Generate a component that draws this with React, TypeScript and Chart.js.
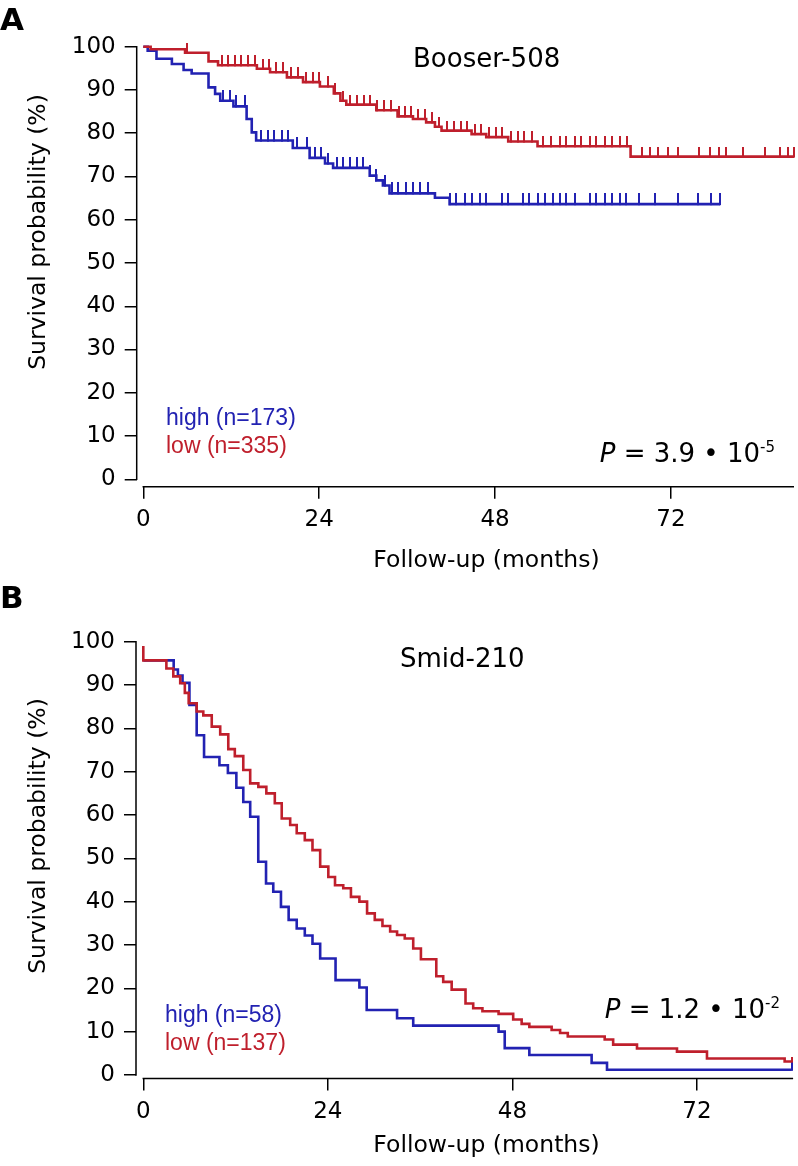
import React, { useEffect, useRef } from "react";
import { Chart, registerables } from "chart.js";

Chart.register(...registerables);

const BLUE = "#2222b2";
const RED = "#bf1f2c";
const SANS = "'DejaVu Sans', 'Liberation Sans', sans-serif";
const LEG = "'Liberation Sans', Arial, sans-serif";

const xTicks = [0, 24, 48, 72];
const yTicks = [0, 10, 20, 30, 40, 50, 60, 70, 80, 90, 100];

// ---------- Panel A: Booser-508 ----------
const aHighTimes = [0, 0.6, 1.8, 3.9, 5.5, 6.6, 8.9, 9.8, 10.5, 12.3, 14.1, 14.8, 15.4, 20.4, 22.7, 24.8, 25.9, 30.9, 31.8, 32.7, 33.6, 39.8, 41.8];
const aHighSurv = [100, 99.1, 97.2, 96.0, 94.6, 93.8, 90.6, 89.1, 87.5, 86.2, 83.3, 80.2, 78.3, 76.6, 74.3, 73.0, 72.0, 70.2, 69.1, 67.9, 66.1, 65.1, 63.6];
const aHighEnd = 78.7;
const aHighCensor = [10.9, 11.8, 12.7, 13.9, 16.1, 17.0, 17.9, 18.9, 19.8, 21.0, 22.3, 23.4, 24.3, 25.2, 26.4, 27.3, 28.2, 29.1, 30.0, 30.9, 31.8, 33.0, 33.9, 34.8, 35.9, 36.8, 37.7, 38.9, 41.8, 42.7, 43.9, 44.8, 45.9, 46.8, 48.9, 49.8, 51.8, 52.7, 53.9, 54.8, 55.9, 56.8, 57.7, 58.9, 60.9, 61.8, 63.0, 63.9, 65.0, 65.9, 67.7, 69.8, 73.0, 75.7, 77.5, 78.7];

const aLowTimes = [0, 1.0, 5.7, 8.9, 10.2, 15.5, 17.3, 19.6, 21.8, 24.1, 26.0, 26.9, 27.7, 31.8, 34.7, 36.8, 38.6, 39.8, 40.7, 44.8, 46.8, 49.8, 53.8, 66.5];
const aLowSurv = [100, 99.4, 98.6, 96.6, 95.7, 94.9, 94.1, 92.9, 91.8, 90.8, 89.2, 87.5, 86.6, 85.3, 83.9, 83.3, 82.5, 81.5, 80.6, 79.8, 79.1, 78.1, 77.0, 74.6];
const aLowEnd = 88.8;
const aLowCensor = [5.9, 10.7, 11.6, 12.5, 13.4, 14.3, 15.2, 16.3, 17.2, 18.1, 19.1, 20.2, 21.1, 22.2, 23.1, 24.0, 25.2, 26.1, 27.3, 28.2, 29.1, 30.1, 30.9, 31.9, 32.8, 33.8, 34.9, 35.7, 36.6, 37.5, 38.4, 39.4, 40.3, 41.5, 42.4, 43.3, 44.2, 45.2, 46.1, 47.2, 48.1, 49.0, 50.2, 51.1, 52.0, 53.0, 54.5, 55.7, 56.8, 57.7, 58.9, 59.8, 60.9, 61.8, 63.0, 63.9, 65.1, 66.0, 68.0, 69.1, 70.2, 71.6, 73.0, 75.9, 77.3, 78.6, 79.5, 81.8, 84.8, 86.9, 88.0, 88.8];

// ---------- Panel B: Smid-210 ----------
const bHighTimes = [0, 3.95, 4.5, 5.1, 6.0, 6.94, 7.9, 9.9, 11.0, 12.1, 13.0, 13.9, 14.95, 15.96, 16.9, 17.9, 18.9, 19.95, 21.0, 22.0, 23.0, 25.0, 28.1, 29.05, 33.0, 35.1, 46.2, 47.0, 50.2, 58.3, 60.3];
const bHighSurv = [95.7, 93.6, 92.2, 90.5, 85.4, 78.4, 73.4, 71.5, 69.7, 66.3, 63.0, 59.6, 49.2, 44.2, 42.3, 38.8, 35.8, 33.8, 32.2, 30.3, 26.9, 21.9, 20.2, 15.0, 13.1, 11.4, 10.0, 6.2, 4.6, 2.8, 1.2];
const bHighEnd = 84.3;
const bHighCensor = [84.3];

const bLowTimes = [0, 0, 3.0, 3.9, 4.8, 5.4, 5.9, 6.94, 7.8, 8.9, 10.0, 11.05, 11.9, 13.0, 13.9, 14.96, 16.0, 17.1, 18.0, 19.1, 19.95, 21.0, 22.0, 23.0, 24.06, 24.93, 26.0, 27.0, 28.1, 29.1, 30.1, 31.1, 32.1, 33.0, 34.0, 35.1, 36.1, 38.1, 39.0, 40.1, 41.9, 42.9, 44.1, 46.2, 48.1, 49.2, 50.2, 53.1, 54.2, 55.2, 60.0, 61.1, 64.2, 69.4, 73.3, 83.4];
const bLowSurv = [99.0, 95.7, 93.8, 92.0, 90.4, 88.2, 85.8, 83.9, 83.0, 80.4, 78.6, 75.2, 73.6, 70.4, 67.3, 66.5, 65.0, 62.7, 59.2, 57.7, 55.8, 54.2, 51.9, 48.1, 45.7, 43.8, 43.1, 41.1, 40.0, 37.3, 35.8, 34.4, 33.1, 32.3, 31.5, 29.2, 26.7, 22.8, 21.5, 19.7, 16.5, 15.4, 14.7, 14.1, 12.8, 11.8, 11.1, 10.4, 9.7, 8.9, 8.2, 7.0, 6.1, 5.4, 3.8, 3.1];
const bLowEnd = 84.3;
const bLowCensor = [84.3];

// ---------- helpers ----------
type Pt = { x: number; y: number };

function stepData(times: number[], surv: number[], end: number): Pt[] {
  const pts = times.map((t, i) => ({ x: t, y: surv[i] }));
  pts.push({ x: end, y: surv[surv.length - 1] });
  return pts;
}

function survAt(times: number[], surv: number[], t: number): number {
  let v = surv[0];
  for (let i = 0; i < times.length; i++) if (times[i] <= t) v = surv[i];
  return v;
}

function tickImage(color: string, h: number): HTMLCanvasElement {
  const c = document.createElement("canvas");
  c.width = 2;
  c.height = 2 * h;
  const g = c.getContext("2d")!;
  g.fillStyle = color;
  g.fillRect(0, 0, 2, h + 1);
  return c;
}

type Curve = { times: number[]; surv: number[]; end: number; censor: number[]; color: string; tick: number };

type Panel = {
  letter: string;
  letterBase: number;
  title: string;
  titleX: number;
  titleBase: number;
  xMin: number;
  xMax: number;
  yMin: number;
  padTop: number;
  padRight: number;
  yWidth: number;
  xHeight: number;
  curves: Curve[];
  legend: { text: string; color: string; x: number; y: number }[];
  pRight: number;
  pBase: number;
  mant: string;
  exp: string;
  yTitleX: number;
  yTitleY: number;
  xTitleBase: number;
};

const panelA: Panel = {
  letter: "A",
  letterBase: 30,
  title: "Booser-508",
  titleX: 413,
  titleBase: 67,
  xMin: -0.9,
  xMax: 88.8,
  yMin: -1.71,
  padTop: 46.7,
  padRight: 3.5,
  yWidth: 136.7,
  xHeight: 96.3,
  curves: [
    { times: aLowTimes, surv: aLowSurv, end: aLowEnd, censor: aLowCensor, color: RED, tick: 10 },
    { times: aHighTimes, surv: aHighSurv, end: aHighEnd, censor: aHighCensor, color: BLUE, tick: 11 },
  ],
  legend: [
    { text: "high (n=173)", color: BLUE, x: 166, y: 425 },
    { text: "low (n=335)", color: RED, x: 166, y: 452.5 },
  ],
  pRight: 775,
  pBase: 461.7,
  mant: "3.9",
  exp: "-5",
  yTitleX: 45,
  yTitleY: 232,
  xTitleBase: 567,
};

const panelB: Panel = {
  letter: "B",
  letterBase: 25.3,
  title: "Smid-210",
  titleX: 400,
  titleBase: 83.7,
  xMin: -0.95,
  xMax: 84.5,
  yMin: -0.81,
  padTop: 58.7,
  padRight: 4.9,
  yWidth: 136,
  xHeight: 87.5,
  curves: [
    { times: bLowTimes, surv: bLowSurv, end: bLowEnd, censor: bLowCensor, color: RED, tick: 5 },
    { times: bHighTimes, surv: bHighSurv, end: bHighEnd, censor: bHighCensor, color: BLUE, tick: 8 },
  ],
  legend: [
    { text: "high (n=58)", color: BLUE, x: 165, y: 438.7 },
    { text: "low (n=137)", color: RED, x: 165, y: 467 },
  ],
  pRight: 780,
  pBase: 435.3,
  mant: "1.2",
  exp: "-2",
  yTitleX: 45,
  yTitleY: 253,
  xTitleBase: 569,
};

function decorPlugin(p: Panel) {
  return {
    id: "decor",
    afterDraw(chart: any) {
      const ctx: CanvasRenderingContext2D = chart.ctx;
      const a = chart.chartArea;
      const xs = chart.scales.x;
      const ys = chart.scales.y;
      ctx.save();
      // detached axis lines
      ctx.strokeStyle = "#000";
      ctx.lineWidth = 1.5;
      ctx.beginPath();
      ctx.moveTo(a.left, ys.getPixelForValue(100) - 0.75);
      ctx.lineTo(a.left, ys.getPixelForValue(0) + 0.75);
      ctx.moveTo(xs.getPixelForValue(0) - 0.75, a.bottom);
      ctx.lineTo(a.right, a.bottom);
      ctx.stroke();

      ctx.textBaseline = "alphabetic";
      ctx.textAlign = "left";
      ctx.fillStyle = "#000";
      ctx.font = `bold 31px ${SANS}`;
      ctx.fillText(p.letter, 0, p.letterBase);

      ctx.font = `26px ${SANS}`;
      ctx.fillText(p.title, p.titleX, p.titleBase);

      ctx.font = `23px ${LEG}`;
      for (const l of p.legend) {
        ctx.fillStyle = l.color;
        ctx.fillText(l.text, l.x, l.y);
      }

      // P value
      ctx.fillStyle = "#000";
      ctx.font = `oblique 26px ${SANS}`;
      const wP = ctx.measureText("P").width;
      ctx.font = `26px ${SANS}`;
      const mid = ` = ${p.mant} \u2022 10`;
      const wM = ctx.measureText(mid).width;
      ctx.font = `15px ${SANS}`;
      const wE = ctx.measureText(p.exp).width;
      let x0 = p.pRight - (wP + wM + wE);
      ctx.font = `oblique 26px ${SANS}`;
      ctx.fillText("P", x0, p.pBase);
      x0 += wP;
      ctx.font = `26px ${SANS}`;
      ctx.fillText(mid, x0, p.pBase);
      x0 += wM;
      ctx.font = `15px ${SANS}`;
      ctx.fillText(p.exp, x0, p.pBase - 10);

      // axis titles
      ctx.font = `23.5px ${SANS}`;
      ctx.textAlign = "center";
      ctx.fillText("Follow-up (months)", 486.5, p.xTitleBase);
      ctx.save();
      ctx.translate(p.yTitleX, p.yTitleY);
      ctx.rotate(-Math.PI / 2);
      ctx.fillText("Survival probability (%)", 0, 0);
      ctx.restore();

      ctx.restore();
    },
  };
}

function buildChart(canvas: HTMLCanvasElement, p: Panel) {
  const datasets: any[] = [];
  for (const c of p.curves) {
    datasets.push({
      data: stepData(c.times, c.surv, c.end),
      borderColor: c.color,
      borderWidth: 2.6,
      stepped: true,
      pointRadius: 0,
      fill: false,
      clip: false,
    });
    datasets.push({
      data: c.censor.map((t) => ({ x: t, y: survAt(c.times, c.surv, t) })),
      showLine: false,
      pointStyle: tickImage(c.color, c.tick),
      pointRadius: 3,
      borderWidth: 0,
      clip: false,
    });
  }
  const tickFont = { family: SANS, size: 23 };
  return new Chart(canvas, {
    type: "line",
    data: { datasets },
    options: {
      animation: false,
      responsive: false,
      maintainAspectRatio: false,
      events: [],
      layout: { padding: { top: p.padTop, right: p.padRight, left: 0, bottom: 0 } },
      plugins: { legend: { display: false }, tooltip: { enabled: false }, title: { display: false } },
      scales: {
        x: {
          type: "linear",
          min: p.xMin,
          max: p.xMax,
          afterBuildTicks: (s: any) => {
            s.ticks = xTicks.map((v) => ({ value: v }));
          },
          afterFit: (s: any) => {
            s.height = p.xHeight;
          },
          border: { display: false },
          grid: { drawOnChartArea: false, drawTicks: true, tickLength: 12, color: "#000", lineWidth: 1.5 },
          ticks: { color: "#000", font: tickFont, padding: 8, maxRotation: 0, autoSkip: false },
        },
        y: {
          type: "linear",
          min: p.yMin,
          max: 100,
          afterBuildTicks: (s: any) => {
            s.ticks = yTicks.map((v) => ({ value: v }));
          },
          afterFit: (s: any) => {
            s.width = p.yWidth;
          },
          border: { display: false },
          grid: { drawOnChartArea: false, drawTicks: true, tickLength: 12, color: "#000", lineWidth: 1.5 },
          ticks: { color: "#000", font: tickFont, padding: 9, autoSkip: false },
        },
      },
    } as any,
    plugins: [decorPlugin(p)],
  });
}

export default function App() {
  const aRef = useRef<HTMLCanvasElement>(null);
  const bRef = useRef<HTMLCanvasElement>(null);
  useEffect(() => {
    const ca = buildChart(aRef.current!, panelA);
    const cb = buildChart(bRef.current!, panelB);
    return () => {
      ca.destroy();
      cb.destroy();
    };
  }, []);
  return (
    <div style={{ position: "absolute", left: 0, top: 0, width: 798, height: 1166, background: "#fff" }}>
      <canvas ref={aRef} width={798} height={583} style={{ display: "block", width: 798, height: 583 }} />
      <canvas ref={bRef} width={798} height={583} style={{ display: "block", width: 798, height: 583 }} />
    </div>
  );
}
